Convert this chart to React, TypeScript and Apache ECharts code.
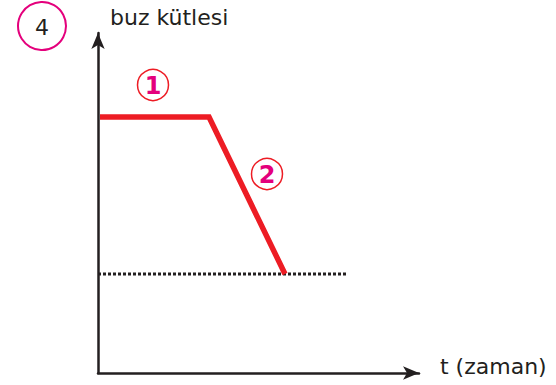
import React, { useEffect, useRef } from "react";
import * as echarts from "echarts";

// time (arbitrary units) and ice mass (arbitrary units)
const iceTime: number[] = [0.2, 11.1, 18.7];
const iceMass: number[] = [25.6, 25.6, 9.9];
const levelTime: number[] = [0, 24.9];
const levelMass: number[] = [9.9, 9.9];
const xMax = 32.1;
const yMax = 34;
const yName = "buz kütlesi";
const xName = "t (zaman)";
const questionNo = "4";
const stageLabels: string[] = ["1", "2"];

const AXIS = "#231f20";
const RED = "#ed1c24";
const MAGENTA = "#e4007c";
const FONT = "DejaVu Sans";

export default function App() {
  const ref = useRef<HTMLDivElement>(null);
  useEffect(() => {
    if (!ref.current) return;
    const chart = echarts.init(ref.current, undefined, { renderer: "svg" });
    const axisCommon = {
      type: "value" as const,
      min: 0,
      axisTick: { show: false },
      axisLabel: { show: false },
      splitLine: { show: false },
      axisLine: {
        show: true,
        onZero: false,
        symbol: ["none", "arrow"],
        symbolSize: [10, 16],
        lineStyle: { color: AXIS, width: 2.5 },
      },
    };
    const circled = (label: string, cx: number, cy: number) => ({
      type: "group",
      children: [
        {
          type: "circle",
          shape: { cx, cy, r: 15.5 },
          style: { fill: "none", stroke: RED, lineWidth: 1.5 },
        },
        {
          type: "text",
          x: cx,
          y: cy + 1,
          style: {
            text: label,
            fill: MAGENTA,
            font: `bold 24px "${FONT}"`,
            textAlign: "center",
            textVerticalAlign: "middle",
          },
        },
      ],
    });
    chart.setOption({
      animation: false,
      backgroundColor: "#ffffff",
      grid: { left: 98, right: 137, top: 33, bottom: 12, outerBoundsMode: "none" },
      xAxis: {
        ...axisCommon,
        max: xMax,
        name: xName,
        nameLocation: "end",
        nameGap: 21,
        nameTextStyle: {
          color: AXIS,
          fontFamily: FONT,
          fontSize: 22,
          verticalAlign: "bottom",
          lineHeight: 14,
        },
      },
      yAxis: {
        ...axisCommon,
        max: yMax,
        name: yName,
        nameLocation: "end",
        nameGap: 5,
        nameTextStyle: {
          color: AXIS,
          fontFamily: FONT,
          fontSize: 22,
          align: "left",
          padding: [0, 0, 0, 12],
        },
      },
      series: [
        {
          type: "line",
          data: levelTime.map((t, i) => [t, levelMass[i]]),
          symbol: "none",
          silent: true,
          lineStyle: { color: AXIS, width: 3, type: [3, 2] },
          z: 3,
        },
        {
          type: "line",
          data: iceTime.map((t, i) => [t, iceMass[i]]),
          symbol: "none",
          silent: true,
          lineStyle: { color: RED, width: 5.5, join: "miter", cap: "butt" },
          z: 4,
        },
      ],
      graphic: [
        {
          type: "circle",
          shape: { cx: 42, cy: 26, r: 24 },
          style: { fill: "none", stroke: MAGENTA, lineWidth: 2 },
        },
        {
          type: "text",
          x: 42,
          y: 27,
          style: {
            text: questionNo,
            fill: AXIS,
            font: `22px "${FONT}"`,
            textAlign: "center",
            textVerticalAlign: "middle",
          },
        },
        circled(stageLabels[0], 153, 85),
        circled(stageLabels[1], 267, 174),
      ],
    });
    return () => chart.dispose();
  }, []);
  return (
    <div
      ref={ref}
      style={{ position: "absolute", left: 0, top: 0, width: 556, height: 385, background: "#fff" }}
    />
  );
}
